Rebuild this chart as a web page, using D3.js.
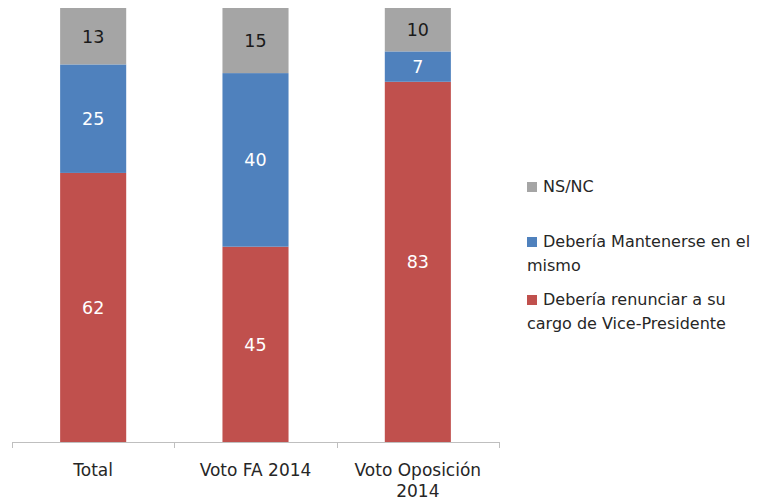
<!DOCTYPE html>
<html>
<head>
<meta charset="utf-8">
<script src="https://cdn.jsdelivr.net/npm/d3@7"></script>
<style>
  body { margin: 0; background: #fff; }
  svg { display: block; font-family: "DejaVu Sans", Verdana, sans-serif; }
</style>
</head>
<body>
<svg id="chart" width="765" height="501"></svg>
<script>
const categories = [["Total"], ["Voto FA 2014"], ["Voto Oposición", "2014"]];
const seriesNames = ["Debería renunciar a su cargo de Vice-Presidente", "Debería Mantenerse en el mismo", "NS/NC"];
const renunciar = [62, 45, 83];
const mantenerse = [25, 40, 7];
const nsnc = [13, 15, 10];
const legendLines = [["NS/NC"], ["Debería Mantenerse en el", "mismo"], ["Debería renunciar a su", "cargo de Vice-Presidente"]];

const colors = ["#C0504D", "#4F81BD", "#A5A5A5"];
const labelColors = ["#ffffff", "#ffffff", "#1a1a1a"];

const svg = d3.select("#chart");
const x0 = 12, x1 = 499, yBase = 442, yTop = 8;

const keys = categories.map(c => c.join(" "));
const x = d3.scaleBand().domain(keys).range([x0, x1]).paddingInner(0.593).paddingOuter(0.2965);
const y = d3.scaleLinear().domain([0, 100]).range([yBase, yTop]);

const rows = keys.map((k, i) => ({ key: k, s0: renunciar[i], s1: mantenerse[i], s2: nsnc[i] }));
const stack = d3.stack().keys(["s0", "s1", "s2"]);
const stacked = stack(rows);

const g = svg.append("g");
stacked.forEach((layer, li) => {
  const lg = g.append("g");
  lg.selectAll("rect").data(layer).enter().append("rect")
    .attr("x", d => x(d.data.key))
    .attr("width", x.bandwidth())
    .attr("y", d => y(d[1]))
    .attr("height", d => y(d[0]) - y(d[1]))
    .attr("fill", colors[li]);
  lg.selectAll("text").data(layer).enter().append("text")
    .attr("x", d => x(d.data.key) + x.bandwidth() / 2)
    .attr("y", d => (y(d[0]) + y(d[1])) / 2)
    .attr("dy", "0.36em")
    .attr("text-anchor", "middle")
    .attr("font-size", 17.5)
    .attr("fill", labelColors[li])
    .text(d => d[1] - d[0]);
});

// x axis
const axisColor = "#BFBFBF";
svg.append("line").attr("x1", x0).attr("x2", x1).attr("y1", yBase + 0.5).attr("y2", yBase + 0.5)
  .attr("stroke", axisColor).attr("stroke-width", 1);
const tickPos = d3.range(keys.length + 1).map(i => x0 + i * (x1 - x0) / keys.length);
svg.selectAll(".tick").data(tickPos).enter().append("line")
  .attr("x1", d => Math.round(d) + 0.5).attr("x2", d => Math.round(d) + 0.5)
  .attr("y1", yBase).attr("y2", yBase + 6)
  .attr("stroke", axisColor);

categories.forEach((lines, i) => {
  const t = svg.append("text")
    .attr("x", x(keys[i]) + x.bandwidth() / 2)
    .attr("y", 476)
    .attr("text-anchor", "middle")
    .attr("font-size", 17)
    .attr("fill", "#262626");
  lines.forEach((ln, j) => {
    t.append("tspan").attr("x", x(keys[i]) + x.bandwidth() / 2).attr("dy", j === 0 ? 0 : 21).text(ln);
  });
});

// legend
const legendItems = [
  { lines: legendLines[0], color: colors[2], y: 192 },
  { lines: legendLines[1], color: colors[1], y: 247 },
  { lines: legendLines[2], color: colors[0], y: 305 }
];
legendItems.forEach(item => {
  svg.append("rect").attr("x", 527).attr("y", item.y - 10).attr("width", 10).attr("height", 10).attr("fill", item.color);
  const t = svg.append("text").attr("x", 543).attr("y", item.y).attr("font-size", 16).attr("fill", "#262626");
  item.lines.forEach((ln, j) => {
    t.append("tspan").attr("x", j === 0 ? 543 : 527).attr("dy", j === 0 ? 0 : 24).text(ln);
  });
});
</script>
</body>
</html>
